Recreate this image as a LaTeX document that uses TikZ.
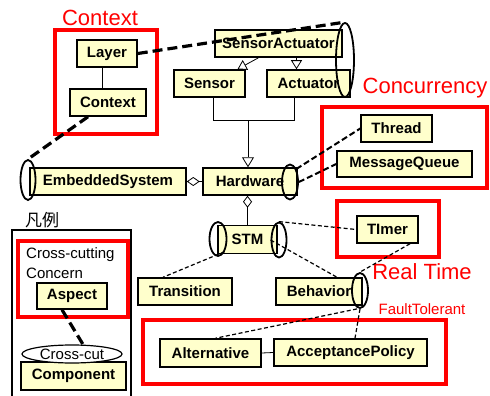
\documentclass[tikz,border=0pt]{standalone}
\usepackage{fontspec}
\setmainfont{Liberation Sans}
\newfontfamily\cjk{Noto Sans CJK JP}
\usetikzlibrary{shapes.geometric,arrows.meta}
\definecolor{clsfill}{HTML}{FFFFCC}
\definecolor{aspred}{HTML}{FF0000}
\begin{document}
\begin{tikzpicture}[x=1pt,y=-1pt,
 cls/.style={draw, fill=clsfill, line width=1.5pt, font=\bfseries\fontsize{15}{18}\selectfont, inner sep=0pt, minimum height=27pt},
 endcap/.style={ellipse, draw, line width=1.8pt, inner sep=0pt},
 redbox/.style={draw=aspred, line width=3.8pt},
 redlabel/.style={text=aspred, font=\fontsize{22}{26}\selectfont, inner sep=0pt},
 plainlabel/.style={font=\fontsize{15}{18}\selectfont, inner sep=0pt},
 thickdash/.style={line width=3.2pt, dash pattern=on 10pt off 5pt},
 middash/.style={line width=2pt, dash pattern=on 6pt off 3pt},
 thindash/.style={line width=1.2pt, dash pattern=on 4pt off 2.5pt},
 link/.style={line width=0.8pt},
]
\useasboundingbox (0,0) rectangle (490,396);
\fill[white] (0,0) rectangle (490,396);

% red aspect boxes and labels
\draw[redbox] (55,30) rectangle (157,134);
\node[redlabel] (lblctx) at (100,18) {Context};
\draw[redbox] (322,107) rectangle (487,188);
\node[redlabel] (lblconc) at (425,88) {Concurrency};
\draw[redbox] (337,201) rectangle (439,257);
\node[redlabel] (lblrt) at (422,272) {Real Time};
\draw[redbox] (143,320) rectangle (446,384);
\node[text=aspred, plainlabel] (lblft) at (422,309) {FaultTolerant};

% legend
\node[font=\cjk\fontsize{17}{20}\selectfont, inner sep=0pt] (lblleg) at (42,220) {凡例};
\draw[line width=1.8pt] (12,402) -- (12,230) -- (131,230) -- (131,402);
\draw[redbox] (18,241) rectangle (128,317);
\node[plainlabel, anchor=west] (cc1) at (26,255) {Cross-cutting};
\node[plainlabel, anchor=west] (cc2) at (26,273) {Concern};
\node[cls, minimum width=70pt, minimum height=26pt] (Aspect) at (72,296) {Aspect};
\node[cls, minimum width=105pt, minimum height=28pt] (Component) at (73.5,376) {Component};
\node[ellipse, draw, fill=white, line width=1.2pt, inner sep=0pt, minimum width=100pt, minimum height=18pt, plainlabel] (crosscut) at (72,354) {Cross-cut};

% class boxes
\node[cls, minimum width=60pt] (Layer) at (107,53.5) {Layer};
\node[cls, minimum width=76pt] (Context) at (108,102.5) {Context};
\node[cls, minimum width=127pt] (SA) at (278.5,43.5) {SensorActuator};
\node[cls, minimum width=71pt] (Sensor) at (209.5,83.5) {Sensor};
\node[cls, minimum width=83pt] (Actuator) at (308.5,83.5) {Actuator};
\node[cls, minimum width=156pt] (ES) at (108,181.5) {EmbeddedSystem};
\node[cls, minimum width=94pt] (HW) at (250,181.5) {Hardware};
\node[cls, minimum width=59pt, minimum height=28pt] (STM) at (247.5,239.5) {STM};
\node[cls, minimum width=94pt] (Transition) at (185,291.5) {Transition};
\node[cls, minimum width=86pt] (Behavior) at (319,291.5) {Behavior};
\node[cls, minimum width=61pt] (Timer) at (387.5,229.5) {TImer};
\node[cls, minimum width=71pt] (Thread) at (396.5,128.5) {Thread};
\node[cls, minimum width=135pt, minimum height=26pt] (MQ) at (404.5,164) {MessageQueue};
\node[cls, minimum width=101pt, minimum height=28pt] (Alt) at (210.5,353) {Alternative};
\node[cls, minimum width=153pt] (AP) at (350.5,352.5) {AcceptancePolicy};

% cross-cut ends
\node[endcap, minimum width=18pt, minimum height=74pt] (SAe) at (345,60) {};
\node[endcap, minimum width=15pt, minimum height=40pt] (ESe) at (28,180) {};
\node[endcap, minimum width=16pt, minimum height=35pt] (HWe) at (290,182) {};
\node[endcap, minimum width=17pt, minimum height=34pt] (STMl) at (218,239) {};
\node[endcap, minimum width=15pt, minimum height=35pt] (STMr) at (279,240) {};
\node[endcap, minimum width=16pt, minimum height=35pt] (Be) at (360,290.5) {};

% structural links
\draw[link] ([xshift=-5pt]Layer.south) -- ([xshift=-6pt]Context.north);
\draw[link, -{Triangle[open, length=9pt, width=11pt]}] ([xshift=-20pt]SA.south) -- ([xshift=28pt]Sensor.north);
\draw[link, -{Triangle[open, length=9pt, width=11pt]}] ([xshift=18pt]SA.south) -- ([xshift=-12pt]Actuator.north);
\coordinate (bus) at (248,120);
\draw[link] ([xshift=3.5pt]Sensor.south) |- (bus);
\draw[link] ([xshift=-14.5pt]Actuator.south) |- (bus);
\draw[link, -{Triangle[open, length=10pt, width=12pt]}] (bus) -- (bus |- HW.north);
\draw[link, {Diamond[open, length=13pt, width=9pt]}-] (ES.east) -- (HW.west);
\draw[link, {Diamond[open, length=12pt, width=9pt]}-] (HW.south -| STM.north) -- (STM.north);
\draw[link] (Alt.east) -- (AP.west);

% cross-cutting links
\draw[thickdash] (Layer.east) -- (SAe.north);
\draw[thickdash] ([xshift=-20pt]Context.south) -- (ESe.north);
\draw[thickdash] ([xshift=-10pt]Aspect.south) -- ([xshift=11pt]crosscut.north);
\draw[middash] (HWe.north east) -- (Thread.west);
\draw[middash] (HWe.east) -- (MQ.west);
\draw[thindash] (STMr.north) -- (Timer.west);
\draw[thindash] (STMr.west) -- ([xshift=18pt]Behavior.north);
\draw[thindash] ([xshift=22.5pt]Timer.south) -- (Be.north);
\draw[thindash] (STMl.south east) -- ([xshift=-22pt]Transition.north);
\draw[thindash] ([xshift=-3pt]Be.south) -- ([xshift=5pt]Alt.north);
\draw[thindash] (Be.south) -- ([xshift=4.5pt]AP.north);
\end{tikzpicture}
\end{document}
